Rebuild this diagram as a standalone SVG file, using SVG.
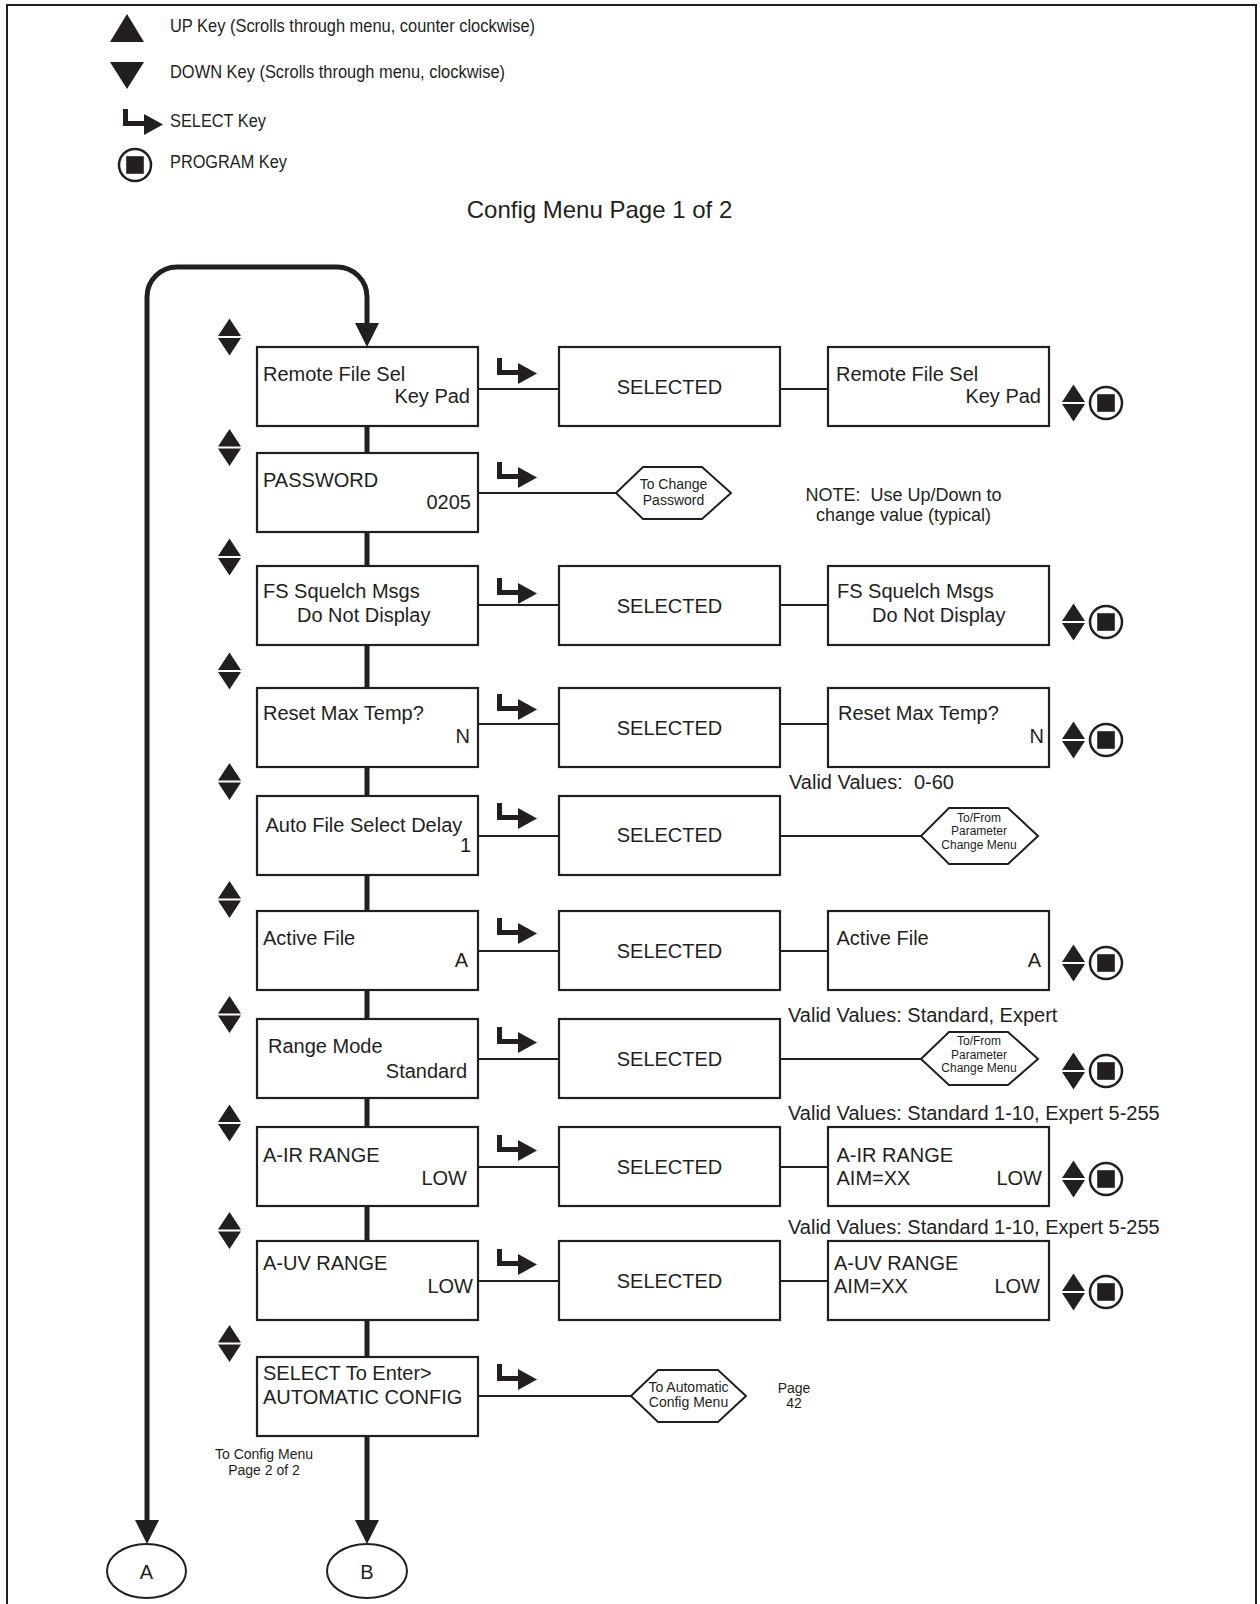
<svg xmlns="http://www.w3.org/2000/svg" xmlns:xlink="http://www.w3.org/1999/xlink" width="1260" height="1604" viewBox="0 0 1260 1604">
<style>
.box{fill:#fff;stroke:#231f20;stroke-width:2.2}
.hex{fill:#fff;stroke:#231f20;stroke-width:2}
.t{font-family:"Liberation Sans",Arial,sans-serif;font-size:20px;fill:#231f20}
.r{text-anchor:end}
.c{text-anchor:middle}
.s12{font-size:12px}
.s14{font-size:14px}
.s18{font-size:18px}
.s24{font-size:24px}
.ln{stroke:#231f20;stroke-width:2;fill:none}
.thick{stroke:#231f20;stroke-width:5;fill:none}
.fillk{fill:#231f20}
</style>
<defs>
<g id="ud"><path class="fillk" d="M0,17.5 L11.5,0 L23,17.5 Z M0,19.5 L23,19.5 L11.5,37 Z"/></g>
<g id="prog"><circle cx="17" cy="17" r="16" fill="#fff" stroke="#231f20" stroke-width="2.5"/><rect x="8.2" y="8.2" width="17.6" height="17.6" class="fillk"/></g>
<g id="sel"><path class="fillk" d="M0,0 H5 V12 H21 V17 H0 Z M21,5 L40,15.5 L21,26 Z"/></g>
</defs>
<rect width="1260" height="1604" fill="#fff"/>
<path d="M7,1604 V5 H1256 V1604" fill="none" stroke="#231f20" stroke-width="2"/>

<g id="legend">
<polygon class="fillk" points="110,42 127,14 144,42"/>
<text class="t s18" x="170" y="32" textLength="365" lengthAdjust="spacingAndGlyphs">UP Key (Scrolls through menu, counter clockwise)</text>
<polygon class="fillk" points="110,62 144,62 127,89"/>
<text class="t s18" x="170" y="78" textLength="335" lengthAdjust="spacingAndGlyphs">DOWN Key (Scrolls through menu, clockwise)</text>
<use xlink:href="#sel" href="#sel" x="123" y="109"/>
<text class="t s18" x="170" y="127" textLength="96" lengthAdjust="spacingAndGlyphs">SELECT Key</text>
<use xlink:href="#prog" href="#prog" x="118" y="148"/>
<text class="t s18" x="170" y="168" textLength="117" lengthAdjust="spacingAndGlyphs">PROGRAM Key</text>
</g>
<text id="title" class="t s24 c" x="599.5" y="218">Config Menu Page 1 of 2</text>

<g id="connectors">
<path class="thick" d="M147,1520 V297 A30,30 0 0 1 177,267 H337 A30,30 0 0 1 367,297 V324"/>
<polygon class="fillk" points="355,323 379,323 367,347"/>
<polygon class="fillk" points="135,1520 159,1520 147,1544"/>
<polygon class="fillk" points="355,1520 379,1520 367,1544"/>
<polygon class="fillk" points="367,415 369.5,426 369.5,453 367,464 364.5,453 364.5,426"/>
<polygon class="fillk" points="367,521 369.5,532 369.5,566 367,577 364.5,566 364.5,532"/>
<polygon class="fillk" points="367,634 369.5,645 369.5,688 367,699 364.5,688 364.5,645"/>
<polygon class="fillk" points="367,756 369.5,767 369.5,796 367,807 364.5,796 364.5,767"/>
<polygon class="fillk" points="367,864 369.5,875 369.5,911 367,922 364.5,911 364.5,875"/>
<polygon class="fillk" points="367,979 369.5,990 369.5,1019 367,1030 364.5,1019 364.5,990"/>
<polygon class="fillk" points="367,1087 369.5,1098 369.5,1127 367,1138 364.5,1127 364.5,1098"/>
<polygon class="fillk" points="367,1195 369.5,1206 369.5,1241 367,1252 364.5,1241 364.5,1206"/>
<polygon class="fillk" points="367,1309 369.5,1320 369.5,1357 367,1368 364.5,1357 364.5,1320"/>
<polygon class="fillk" points="367,1425 369.5,1436 369.5,1521 364.5,1521 364.5,1436"/>
<path class="ln" d="M478,389 H559 M780,389 H828"/>
<path class="ln" d="M478,493 H616"/>
<path class="ln" d="M478,605 H559 M780,605 H828"/>
<path class="ln" d="M478,724 H559 M780,724 H828"/>
<path class="ln" d="M478,836 H559 M780,836 H921"/>
<path class="ln" d="M478,951 H559 M780,951 H828"/>
<path class="ln" d="M478,1059 H559 M780,1059 H921"/>
<path class="ln" d="M478,1167 H559 M780,1167 H828"/>
<path class="ln" d="M478,1281 H559 M780,1281 H828"/>
<path class="ln" d="M478,1396 H631"/>
</g>

<g id="icons">
<use xlink:href="#ud" href="#ud" x="218" y="318.5"/>
<use xlink:href="#ud" href="#ud" x="218" y="429"/>
<use xlink:href="#ud" href="#ud" x="218" y="538.5"/>
<use xlink:href="#ud" href="#ud" x="218" y="652.5"/>
<use xlink:href="#ud" href="#ud" x="218" y="763"/>
<use xlink:href="#ud" href="#ud" x="218" y="881"/>
<use xlink:href="#ud" href="#ud" x="218" y="996"/>
<use xlink:href="#ud" href="#ud" x="218" y="1104.5"/>
<use xlink:href="#ud" href="#ud" x="218" y="1212"/>
<use xlink:href="#ud" href="#ud" x="218" y="1325"/>
<use xlink:href="#sel" href="#sel" x="497" y="358"/>
<use xlink:href="#sel" href="#sel" x="497" y="462"/>
<use xlink:href="#sel" href="#sel" x="497" y="578"/>
<use xlink:href="#sel" href="#sel" x="497" y="694"/>
<use xlink:href="#sel" href="#sel" x="497" y="803"/>
<use xlink:href="#sel" href="#sel" x="497" y="918"/>
<use xlink:href="#sel" href="#sel" x="497" y="1027"/>
<use xlink:href="#sel" href="#sel" x="497" y="1135"/>
<use xlink:href="#sel" href="#sel" x="497" y="1249"/>
<use xlink:href="#sel" href="#sel" x="497" y="1364"/>
<use xlink:href="#ud" href="#ud" x="1062" y="384.5"/><use xlink:href="#prog" href="#prog" x="1089" y="386"/>
<use xlink:href="#ud" href="#ud" x="1062" y="603.5"/><use xlink:href="#prog" href="#prog" x="1089" y="605"/>
<use xlink:href="#ud" href="#ud" x="1062" y="721.5"/><use xlink:href="#prog" href="#prog" x="1089" y="723"/>
<use xlink:href="#ud" href="#ud" x="1062" y="944.5"/><use xlink:href="#prog" href="#prog" x="1089" y="946"/>
<use xlink:href="#ud" href="#ud" x="1062" y="1052.5"/><use xlink:href="#prog" href="#prog" x="1089" y="1054"/>
<use xlink:href="#ud" href="#ud" x="1062" y="1160.5"/><use xlink:href="#prog" href="#prog" x="1089" y="1162"/>
<use xlink:href="#ud" href="#ud" x="1062" y="1273.5"/><use xlink:href="#prog" href="#prog" x="1089" y="1275"/>
</g>

<g id="row1">
<rect class="box" x="257" y="347" width="221" height="79"/>
<text class="t" x="263" y="381">Remote File Sel</text><text class="t r" x="470" y="403">Key Pad</text>
</g>
<g id="row1-selected"><rect class="box" x="559" y="347" width="221" height="79"/><text class="t c" x="669.5" y="394">SELECTED</text></g>
<g id="row1-result"><rect class="box" x="828" y="347" width="221" height="79"/>
<text class="t" x="836" y="381">Remote File Sel</text><text class="t r" x="1041" y="403">Key Pad</text></g>

<g id="row2">
<rect class="box" x="257" y="453" width="221" height="79"/>
<text class="t" x="263" y="487">PASSWORD</text><text class="t r" x="471" y="509">0205</text>
</g>
<g id="row2-hex"><polygon class="hex" points="616,493 643,467 702,467 731,493 702,519 643,519"/>
<text class="t s14 c" x="673.5" y="489">To Change</text><text class="t s14 c" x="673.5" y="504.5">Password</text></g>
<g id="note"><text class="t s18 c" x="903.5" y="501">NOTE:&#160; Use Up/Down to</text><text class="t s18 c" x="903.5" y="521">change value (typical)</text></g>

<g id="row3">
<rect class="box" x="257" y="566" width="221" height="79"/>
<text class="t" x="263" y="598">FS Squelch Msgs</text><text class="t" x="297" y="622">Do Not Display</text>
</g>
<g id="row3-selected"><rect class="box" x="559" y="566" width="221" height="79"/><text class="t c" x="669.5" y="612.5">SELECTED</text></g>
<g id="row3-result"><rect class="box" x="828" y="566" width="221" height="79"/>
<text class="t" x="837" y="598">FS Squelch Msgs</text><text class="t" x="872" y="622">Do Not Display</text></g>

<g id="row4">
<rect class="box" x="257" y="688" width="221" height="79"/>
<text class="t" x="263" y="720">Reset Max Temp?</text><text class="t r" x="470" y="743">N</text>
</g>
<g id="row4-selected"><rect class="box" x="559" y="688" width="221" height="79"/><text class="t c" x="669.5" y="734.5">SELECTED</text></g>
<g id="row4-result"><rect class="box" x="828" y="688" width="221" height="79"/>
<text class="t" x="838" y="720">Reset Max Temp?</text><text class="t r" x="1044" y="743">N</text></g>
<text class="t" x="789" y="789">Valid Values:&#160; 0-60</text>

<g id="row5">
<rect class="box" x="257" y="796" width="221" height="79"/>
<text class="t" x="265.5" y="831.5">Auto File Select Delay</text><text class="t r" x="471" y="852">1</text>
</g>
<g id="row5-selected"><rect class="box" x="559" y="796" width="221" height="79"/><text class="t c" x="669.5" y="842">SELECTED</text></g>
<g id="row5-hex"><polygon class="hex" points="921,836 949,808 1008,808 1038,836 1008,864 949,864"/>
<text class="t s12 c" x="979" y="821.5">To/From</text><text class="t s12 c" x="979" y="835">Parameter</text><text class="t s12 c" x="979" y="848.5">Change Menu</text></g>

<g id="row6">
<rect class="box" x="257" y="911" width="221" height="79"/>
<text class="t" x="263" y="945">Active File</text><text class="t r" x="468" y="967">A</text>
</g>
<g id="row6-selected"><rect class="box" x="559" y="911" width="221" height="79"/><text class="t c" x="669.5" y="957.5">SELECTED</text></g>
<g id="row6-result"><rect class="box" x="828" y="911" width="221" height="79"/>
<text class="t" x="836.5" y="945">Active File</text><text class="t r" x="1041" y="967">A</text></g>
<text class="t" x="788" y="1022">Valid Values: Standard, Expert</text>

<g id="row7">
<rect class="box" x="257" y="1019" width="221" height="79"/>
<text class="t" x="268" y="1053">Range Mode</text><text class="t r" x="467" y="1078">Standard</text>
</g>
<g id="row7-selected"><rect class="box" x="559" y="1019" width="221" height="79"/><text class="t c" x="669.5" y="1065.5">SELECTED</text></g>
<g id="row7-hex"><polygon class="hex" points="921,1059 949,1032 1008,1032 1038,1059 1008,1085 949,1085"/>
<text class="t s12 c" x="979" y="1045">To/From</text><text class="t s12 c" x="979" y="1058.5">Parameter</text><text class="t s12 c" x="979" y="1072">Change Menu</text></g>
<text class="t" x="788" y="1120">Valid Values: Standard 1-10, Expert 5-255</text>

<g id="row8">
<rect class="box" x="257" y="1127" width="221" height="79"/>
<text class="t" x="263" y="1162">A-IR RANGE</text><text class="t r" x="467" y="1185">LOW</text>
</g>
<g id="row8-selected"><rect class="box" x="559" y="1127" width="221" height="79"/><text class="t c" x="669.5" y="1173.5">SELECTED</text></g>
<g id="row8-result"><rect class="box" x="828" y="1127" width="221" height="79"/>
<text class="t" x="836.5" y="1162">A-IR RANGE</text><text class="t" x="836.5" y="1184.5">AIM=XX</text><text class="t r" x="1042" y="1184.5">LOW</text></g>
<text class="t" x="788" y="1233.5">Valid Values: Standard 1-10, Expert 5-255</text>

<g id="row9">
<rect class="box" x="257" y="1241" width="221" height="79"/>
<text class="t" x="263" y="1270">A-UV RANGE</text><text class="t r" x="473" y="1293">LOW</text>
</g>
<g id="row9-selected"><rect class="box" x="559" y="1241" width="221" height="79"/><text class="t c" x="669.5" y="1287.5">SELECTED</text></g>
<g id="row9-result"><rect class="box" x="828" y="1241" width="221" height="79"/>
<text class="t" x="834" y="1270">A-UV RANGE</text><text class="t" x="834" y="1293">AIM=XX</text><text class="t r" x="1040" y="1293">LOW</text></g>

<g id="row10">
<rect class="box" x="257" y="1357" width="221" height="79"/>
<text class="t" x="263" y="1380">SELECT To Enter&gt;</text><text class="t" x="263" y="1404">AUTOMATIC CONFIG</text>
</g>
<g id="row10-hex"><polygon class="hex" points="631,1396 658,1370 718,1370 746,1396 718,1422 658,1422"/>
<text class="t s14 c" x="688.5" y="1392">To Automatic</text><text class="t s14 c" x="688.5" y="1407">Config Menu</text></g>
<g id="page-ref"><text class="t s14 c" x="794" y="1393">Page</text><text class="t s14 c" x="794" y="1408">42</text></g>
<g id="to-page2"><text class="t s14 c" x="264" y="1459">To Config Menu</text><text class="t s14 c" x="264" y="1475">Page 2 of 2</text></g>

<g id="nodeA"><ellipse cx="146.5" cy="1571" rx="39.5" ry="27" fill="#fff" stroke="#231f20" stroke-width="2"/><text class="t c" x="146.5" y="1579">A</text></g>
<g id="nodeB"><ellipse cx="367" cy="1571" rx="40" ry="27" fill="#fff" stroke="#231f20" stroke-width="2"/><text class="t c" x="367" y="1579">B</text></g>
</svg>
